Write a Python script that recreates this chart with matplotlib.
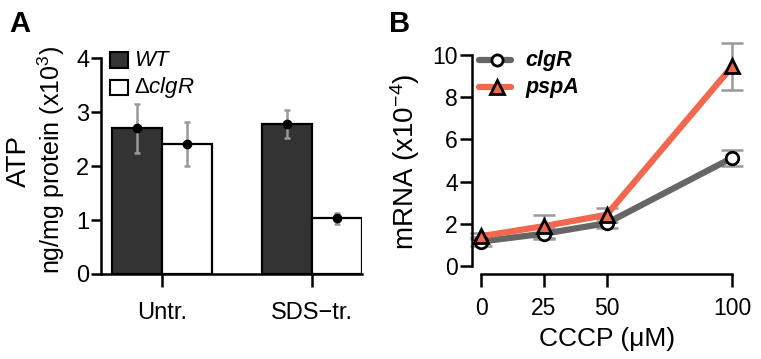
import matplotlib
matplotlib.use("Agg")
import matplotlib.pyplot as plt
import numpy as np
from matplotlib.patches import Rectangle
from matplotlib.lines import Line2D

plt.rcParams['font.family'] = ['Liberation Sans', 'DejaVu Sans']
plt.rcParams['mathtext.fontset'] = 'custom'
plt.rcParams['mathtext.rm'] = 'Liberation Sans'
plt.rcParams['mathtext.it'] = 'Liberation Sans:italic'
plt.rcParams['mathtext.bf'] = 'Liberation Sans:bold'

# Panel A data
categories = ["Untr.", "SDS\u2212tr."]
wt_atp = [2.70, 2.78]
wt_err = [0.45, 0.26]
dclgr_atp = [2.41, 1.03]
dclgr_err = [0.40, 0.11]

# Panel B data
cccp = [0, 25, 50, 100]
clgr_mrna = [1.15, 1.52, 2.02, 5.13]
clgr_err = [0.22, 0.25, 0.22, 0.38]
pspa_mrna = [1.40, 1.88, 2.42, 9.48]
pspa_err = [0.15, 0.55, 0.32, 1.12]

W, H = 761, 359
fig = plt.figure(figsize=(W / 100, H / 100), dpi=100)

def fx(px):
    return px / W

def fy(py):
    return 1 - py / H

SPW = 1.8

# ---------- Panel A ----------
axA = fig.add_axes([fx(100.5), fy(274), fx(362) - fx(100.5), fy(58.3) - fy(274)])
x = np.arange(len(categories))
bw = 1 / 3
axA.bar(x - bw / 2, wt_atp, bw, color='#333333', edgecolor='black', linewidth=1.6, zorder=2)
axA.bar(x + bw / 2, dclgr_atp, bw, color='white', edgecolor='black', linewidth=1.6, zorder=2)
for xs, ys, es in [(x - bw / 2, wt_atp, wt_err), (x + bw / 2, dclgr_atp, dclgr_err)]:
    axA.errorbar(xs, ys, yerr=es, fmt='o', color='black', markersize=6,
                 ecolor='#999999', elinewidth=1.8, capsize=2.5, capthick=1.8, zorder=3)
axA.set_xlim(-0.413, 1.333)
axA.set_ylim(0, 4)
axA.set_xticks(x)
axA.set_xticklabels(categories, fontsize=17)
axA.set_yticks([0, 1, 2, 3, 4])
axA.tick_params(axis='y', labelsize=17, width=SPW, length=7, pad=1)
axA.tick_params(axis='x', width=SPW, length=9, pad=11)
for s in ['top', 'right']:
    axA.spines[s].set_visible(False)
for s in ['left', 'bottom']:
    axA.spines[s].set_linewidth(SPW)

# legend A (manual)
fig.patches.append(Rectangle((fx(109.5), fy(68)), fx(127.5) - fx(109.5), fy(52) - fy(68),
                             facecolor='#333333', edgecolor='black', linewidth=1.5,
                             transform=fig.transFigure))
fig.patches.append(Rectangle((fx(109.5), fy(95)), fx(127.5) - fx(109.5), fy(80) - fy(95),
                             facecolor='white', edgecolor='black', linewidth=1.5,
                             transform=fig.transFigure))
fig.text(fx(134), fy(66), 'WT', fontsize=16, style='italic', va='baseline', ha='left')
fig.text(fx(134), fy(93), '\u0394' + r'$\mathit{clgR}$', fontsize=16, va='baseline', ha='left')

fig.text(fx(26), fy(161), 'ATP', fontsize=20, rotation=90, rotation_mode='anchor',
         va='baseline', ha='center')
fig.text(fx(60), fy(160), r'ng/mg protein (x10$^3$)', fontsize=18, rotation=90,
         rotation_mode='anchor', va='baseline', ha='center')
fig.text(fx(9), fy(32), 'A', fontsize=21, fontweight='bold', va='baseline', ha='left')

# ---------- Panel B ----------
ppu = 21.04
y0 = 265.7
ytop = y0 - 11 * ppu
x0px, x100px = 481.0, 732.3
xpu = (x100px - x0px) / 100
left_px = 471.7
right_px = 745
axB = fig.add_axes([fx(left_px), fy(y0), fx(right_px) - fx(left_px), fy(ytop) - fy(y0)])
axB.set_xlim((left_px - x0px) / xpu, (right_px - x0px) / xpu)
axB.set_ylim(0, 11)

clgr_color = '#666666'
pspa_color = '#f0684e'
axB.errorbar(cccp, clgr_mrna, yerr=clgr_err, fmt='none', ecolor='#999999',
             elinewidth=1.8, capsize=8, capthick=1.8, zorder=2, clip_on=False)
axB.errorbar(cccp, pspa_mrna, yerr=pspa_err, fmt='none', ecolor='#999999',
             elinewidth=1.8, capsize=8, capthick=1.8, zorder=2, clip_on=False)
axB.plot(cccp, clgr_mrna, '-', color=clgr_color, linewidth=4.5, zorder=3,
         solid_capstyle='round', clip_on=False)
axB.plot(cccp, pspa_mrna, '-', color=pspa_color, linewidth=4.5, zorder=4,
         solid_capstyle='round', clip_on=False)
axB.plot(cccp, clgr_mrna, 'o', mfc='white', mec='black', mew=2, ms=9, zorder=5, clip_on=False)
axB.plot(cccp, pspa_mrna, '^', mfc=pspa_color, mec='black', mew=2, ms=10, zorder=6, clip_on=False)

axB.set_xticks(cccp)
axB.set_yticks([0, 2, 4, 6, 8, 10])
axB.spines['left'].set_bounds(0, 10)
axB.spines['bottom'].set_bounds(0, 100)
axB.spines['bottom'].set_position(('outward', 6.2))
for s in ['top', 'right']:
    axB.spines[s].set_visible(False)
for s in ['left', 'bottom']:
    axB.spines[s].set_linewidth(SPW)
axB.tick_params(axis='both', labelsize=16.5, width=SPW)
axB.tick_params(axis='y', length=9, pad=1)
axB.tick_params(axis='x', length=9, pad=7)

fig.text(fx(607), fy(346), 'CCCP (\u03bcM)', fontsize=19, va='baseline', ha='center')
fig.text(fx(414), fy(162), r'mRNA (x10$^{-4}$)', fontsize=20, rotation=90,
         rotation_mode='anchor', va='baseline', ha='center')
fig.text(fx(389), fy(32), 'B', fontsize=21, fontweight='bold', va='baseline', ha='left')

# legend B (manual)
for yy, col, mk, mfc, lab in [(60, clgr_color, 'o', 'white', 'clgR'),
                               (87, pspa_color, '^', pspa_color, 'pspA')]:
    fig.add_artist(Line2D([fx(479), fx(511)], [fy(yy), fy(yy)], color=col, linewidth=4.5,
                          transform=fig.transFigure, solid_capstyle='round'))
    fig.add_artist(Line2D([fx(497)], [fy(yy)], marker=mk, mfc=mfc, mec='black', mew=2,
                          ms=8 if mk == 'o' else 10, transform=fig.transFigure))
    fig.text(fx(525), fy(yy + 6), lab, fontsize=15.5, style='italic', fontweight='bold',
             va='baseline', ha='left')

fig.savefig('out.png', dpi=100)
